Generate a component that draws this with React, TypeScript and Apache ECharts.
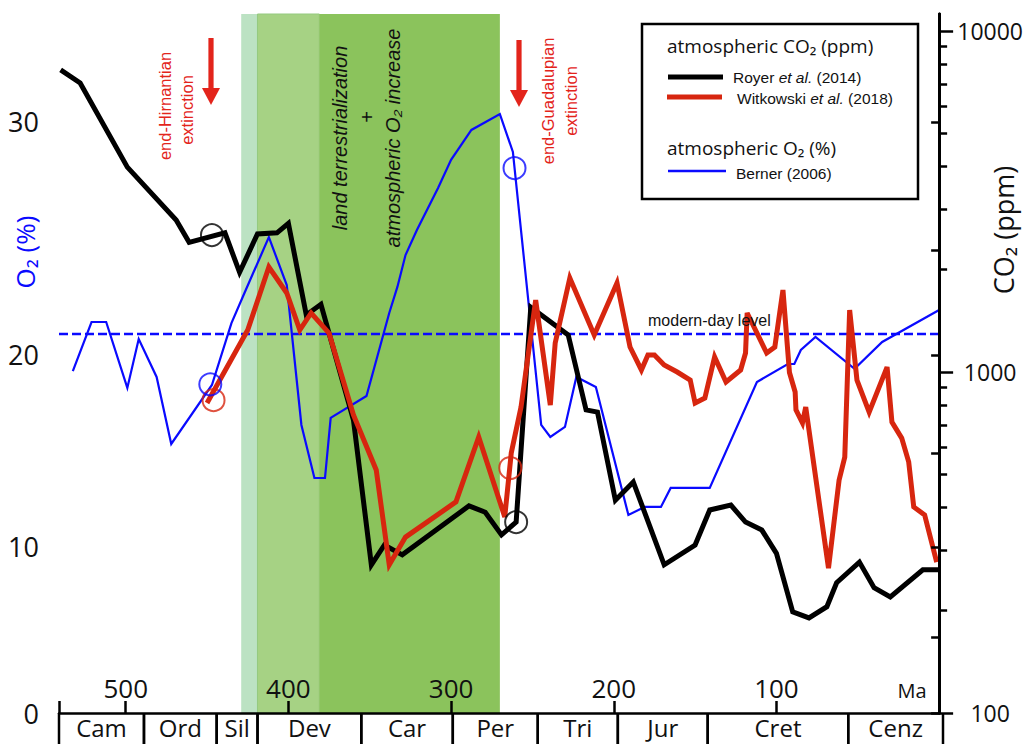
import React, { useEffect, useRef } from 'react';
import * as echarts from 'echarts';

// ---------- data (Ma = million years ago) ----------
const ROYER_MA = [540, 528, 499, 469, 461, 439, 430, 419, 407, 400, 389, 380, 360, 349, 341, 330, 289, 279, 269, 260, 251, 228, 217, 210, 199, 188, 169, 150, 141, 128, 119, 109, 100, 90, 80, 69, 63, 49, 40, 30, 10, 0];
const ROYER_CO2 = [7690, 7040, 3990, 2790, 2400, 2560, 1960, 2540, 2560, 2730, 1470, 1580, 723, 272, 311, 291, 405, 388, 333, 363, 1550, 1284, 774, 763, 421, 476, 272, 311, 394, 407, 363, 344, 294, 198, 190, 205, 241, 277, 233, 219, 263, 263];

const WITK_MA = [450, 425, 412, 401, 393, 386, 375, 360, 346, 338, 328, 297, 283, 267, 263, 257, 248, 239, 236, 227, 212, 198, 190, 183, 179, 175, 169, 161, 153, 150, 144, 138, 131, 122, 119, 118, 106, 101, 96, 92, 88.5, 88, 84, 82, 68, 61.5, 58, 55, 50.5, 43, 32, 29, 23, 18.7, 15.6, 8.9, 1.5];
const WITK_CO2 = [811, 1328, 2032, 1705, 1328, 1490, 1300, 748, 516, 272, 328, 416, 645, 376, 579, 789, 1626, 800, 1216, 1887, 1284, 1824, 1184, 1014, 1122, 1122, 1048, 1000, 947, 811, 839, 1107, 935, 1014, 1137, 1490, 1137, 1184, 1740, 997, 874, 774, 709, 789, 266, 482, 563, 1520, 947, 763, 1034, 713, 640, 545, 402, 381, 277];

const BERNER_MA = [532.5, 521, 512, 499, 492, 481, 472, 447, 435, 427, 412, 401, 392, 384, 377.5, 374, 352, 338, 333, 328, 321, 308, 300, 287.5, 270, 262, 244.6, 239, 230, 223, 211, 191, 181, 171, 165, 141, 112, 93, 89, 85, 76, 52, 35, 0];
const BERNER_O2 = [19.18, 21.57, 21.57, 18.32, 20.76, 18.88, 15.46, 18.47, 21.52, 22.95, 25.5, 23.33, 16.43, 13.67, 13.67, 16.79, 17.91, 22.0, 23.24, 24.76, 25.78, 27.42, 28.52, 29.69, 30.31, 28.83, 16.43, 15.82, 16.33, 18.88, 18.37, 11.7, 12.13, 12.13, 13.14, 13.14, 18.62, 19.54, 19.54, 20.24, 20.86, 19.29, 20.62, 22.14];

const MODERN_O2 = 21;

// extinction markers (circles)
const MARK_MA_ROYER = [447, 260];
const MARK_CO2_ROYER = [2522, 363];
const MARK_MA_WITK = [446, 263.6];
const MARK_CO2_WITK = [827, 523];
const MARK_MA_BERNER = [448, 261];
const MARK_O2_BERNER = [18.5, 28.2];

// shaded intervals (Ma)
const BAND_START = [429, 419, 381];
const BAND_END = [419, 381, 270];
const BAND_COLORS = ['#bce2c3', '#a6d284', '#8bc35c'];

// geological periods
const PERIOD_NAMES = ['Cam', 'Ord', 'Sil', 'Dev', 'Car', 'Per', 'Tri', 'Jur', 'Cret', 'Cenz'];
const PERIOD_START = [541, 489, 444.5, 419.5, 356, 300, 248, 199, 144, 58];
const PERIOD_END = [489, 444.5, 419.5, 356, 300, 248, 199, 144, 58, 0];

// axes
const MA_MAX = 541;
const MA_TICKS = [100, 200, 300, 400, 500];
const CO2_MIN = 100;
const CO2_MAX = 11220;
const O2_TICKS = [0, 5, 10, 15, 20, 25, 30];
const O2_LABELS = [0, 10, 20, 30];
// the printed O2 axis is not linear: relative height (%) of each O2 tick
const O2_TICK_LEVEL = [0, 10.87, 23.75, 37.2, 51.22, 66.24, 84.55];

function o2Scale(v: number): number {
  const n = O2_TICKS.length;
  let i = 0;
  while (i < n - 2 && v > O2_TICKS[i + 1]) i++;
  const t = (v - O2_TICKS[i]) / (O2_TICKS[i + 1] - O2_TICKS[i]);
  return O2_TICK_LEVEL[i] + t * (O2_TICK_LEVEL[i + 1] - O2_TICK_LEVEL[i]);
}

const AXIS_FONT = '"Open Sans", "Noto Sans", sans-serif';
const HELV = '"Liberation Sans", Arial, sans-serif';
const RED = '#d7260f';
const BLUE = '#0a0aff';
const ARROW_RED = '#e3241b';

export default function App() {
  const ref = useRef<HTMLDivElement>(null);
  useEffect(() => {
    if (!ref.current) return;
    const chart = echarts.init(ref.current, undefined, { renderer: 'svg' });

    const minorCo2: number[] = [];
    for (let d = 2; d <= 4; d++) {
      for (let k = 2; k <= 9; k++) {
        const v = k * Math.pow(10, d);
        if (v <= CO2_MAX) minorCo2.push(Math.log10(v));
      }
    }

    const zipPairs = (a: number[], b: number[], f = (x: number) => x) => a.map((x, i) => [x, f(b[i])]);

    const textEl = (x: number, y: number, text: string, opts: any = {}) => ({
      type: 'text',
      x,
      y,
      z: 20,
      rotation: opts.rotation || 0,
      style: {
        text,
        fill: opts.fill || '#111',
        font: opts.font,
        align: opts.align || 'center',
        verticalAlign: 'middle',
        rich: opts.rich,
      },
    });

    const arrow = (x: number, y0: number, y1: number) => ({
      type: 'group',
      z: 20,
      children: [
        { type: 'rect', z: 20, shape: { x: x - 2.6, y: y0, width: 5.2, height: y1 - y0 - 14 }, style: { fill: ARROW_RED } },
        { type: 'polygon', z: 20, shape: { points: [[x - 9, y1 - 17], [x + 9, y1 - 17], [x, y1]] }, style: { fill: ARROW_RED } },
      ],
    });

    const legendRich = {
      n: { font: `15.5px ${HELV}`, fill: '#111' },
      i: { font: `italic 15.5px ${HELV}`, fill: '#111' },
    };

    const option: any = {
      animation: false,
      backgroundColor: '#fff',
      grid: [
        { left: 59, right: 83, top: 14, bottom: 31 },
        { left: 59, right: 83, top: 713, height: 31 },
      ],
      xAxis: [
        {
          type: 'value',
          gridIndex: 0,
          z: 10,
          min: 0,
          max: MA_MAX,
          interval: 100,
          inverse: true,
          axisLine: { show: true, onZero: false, lineStyle: { color: '#000', width: 2.5 } },
          axisTick: { show: true, inside: true, length: 12, lineStyle: { color: '#000', width: 2.5 } },
          axisLabel: {
            inside: true,
            margin: 12,
            color: '#111',
            fontSize: 26,
            fontFamily: AXIS_FONT,
            formatter: (v: number) => (MA_TICKS.indexOf(v) >= 0 ? String(v) : ''),
          },
          splitLine: { show: false },
        },
        { type: 'value', gridIndex: 1, min: 0, max: MA_MAX, inverse: true, show: false },
      ],
      yAxis: [
        {
          type: 'value',
          gridIndex: 0,
          z: 10,
          position: 'left',
          min: 0,
          max: 100,
          axisLine: { show: true, lineStyle: { color: '#000', width: 3 } },
          axisTick: { show: true, length: 8, customValues: O2_TICKS.map(o2Scale), lineStyle: { color: '#000', width: 2.5 } },
          axisLabel: {
            show: true,
            margin: 20,
            customValues: O2_LABELS.map(o2Scale),
            color: '#111',
            fontSize: 27,
            fontFamily: AXIS_FONT,
            formatter: (v: number) => {
              let best = 0;
              O2_LABELS.forEach((l, i) => {
                if (Math.abs(o2Scale(l) - v) < Math.abs(o2Scale(O2_LABELS[best]) - v)) best = i;
              });
              return String(O2_LABELS[best]);
            },
          },
          splitLine: { show: false },
        },
        { type: 'log', logBase: 10, gridIndex: 0, min: CO2_MIN, max: CO2_MAX, show: false },
        {
          type: 'value',
          gridIndex: 0,
          z: 10,
          position: 'right',
          min: Math.log10(CO2_MIN),
          max: Math.log10(CO2_MAX),
          axisLine: { show: true, lineStyle: { color: '#000', width: 3 } },
          axisTick: { show: true, length: 14, customValues: [2, 3, 4], lineStyle: { color: '#000', width: 2.5 } },
          axisLabel: {
            show: true,
            customValues: [2, 3, 4],
            align: 'center',
            margin: 51,
            color: '#111',
            fontSize: 23,
            fontFamily: AXIS_FONT,
            formatter: (v: number) => String(Math.round(Math.pow(10, v))),
          },
          splitLine: { show: false },
        },
        {
          type: 'value',
          gridIndex: 0,
          z: 10,
          position: 'right',
          min: Math.log10(CO2_MIN),
          max: Math.log10(CO2_MAX),
          axisLine: { show: false },
          axisTick: { show: true, length: 8, customValues: minorCo2, lineStyle: { color: '#000', width: 2.5 } },
          axisLabel: { show: false },
          splitLine: { show: false },
        },
        { type: 'value', gridIndex: 1, min: 0, max: 1, show: false },
      ],
      series: [
        {
          type: 'custom',
          name: 'bands',
          xAxisIndex: 0,
          yAxisIndex: 0,
          z: 1,
          silent: true,
          data: BAND_START.map((s, i) => [s, BAND_END[i]]),
          renderItem: (params: any, api: any) => {
            const p0 = api.coord([api.value(0), 100]);
            const p1 = api.coord([api.value(1), 0]);
            const x = Math.min(p0[0], p1[0]);
            return {
              type: 'rect',
              shape: { x, y: p0[1], width: Math.abs(p1[0] - p0[0]), height: p1[1] - p0[1] },
              style: { fill: BAND_COLORS[params.dataIndex], stroke: params.dataIndex === 1 ? '#94c97f' : null, lineWidth: 1 },
            };
          },
        },
        {
          type: 'custom',
          name: 'periods',
          xAxisIndex: 1,
          yAxisIndex: 4,
          z: 5,
          silent: true,
          clip: false,
          data: PERIOD_START.map((s, i) => [s, PERIOD_END[i]]),
          renderItem: (params: any, api: any) => {
            const p0 = api.coord([api.value(0), 1]);
            const p1 = api.coord([api.value(1), 0]);
            const cs = params.coordSys;
            return {
              type: 'group',
              children: [
                { type: 'line', shape: { x1: p0[0], y1: cs.y, x2: p0[0], y2: cs.y + cs.height + 4 }, style: { stroke: '#000', lineWidth: 2.5 } },
                { type: 'line', shape: { x1: p1[0], y1: cs.y, x2: p1[0], y2: cs.y + cs.height + 4 }, style: { stroke: '#000', lineWidth: 2.5 } },
                {
                  type: 'text',
                  x: (p0[0] + p1[0]) / 2,
                  y: cs.y + 14,
                  style: { text: PERIOD_NAMES[params.dataIndex], font: `24px ${AXIS_FONT}`, fill: '#111', align: 'center', verticalAlign: 'middle' },
                },
              ],
            };
          },
        },
        {
          type: 'line',
          name: 'modern',
          xAxisIndex: 0,
          yAxisIndex: 0,
          z: 3,
          symbol: 'none',
          silent: true,
          data: [[MA_MAX, o2Scale(MODERN_O2)], [0, o2Scale(MODERN_O2)]],
          lineStyle: { color: BLUE, width: 2.5, type: [9, 4] },
        },
        {
          type: 'line',
          name: 'Berner (2006)',
          xAxisIndex: 0,
          yAxisIndex: 0,
          z: 4,
          symbol: 'none',
          data: zipPairs(BERNER_MA, BERNER_O2, o2Scale),
          lineStyle: { color: BLUE, width: 2.2, join: 'miter' },
        },
        {
          type: 'line',
          name: 'Royer et al. (2014)',
          xAxisIndex: 0,
          yAxisIndex: 1,
          z: 5,
          symbol: 'none',
          data: zipPairs(ROYER_MA, ROYER_CO2),
          lineStyle: { color: '#000', width: 5, join: 'miter' },
        },
        {
          type: 'line',
          name: 'Witkowski et al. (2018)',
          xAxisIndex: 0,
          yAxisIndex: 1,
          z: 6,
          symbol: 'none',
          data: zipPairs(WITK_MA, WITK_CO2),
          lineStyle: { color: RED, width: 5, join: 'miter' },
        },
        {
          type: 'scatter',
          xAxisIndex: 0,
          yAxisIndex: 1,
          z: 7,
          symbol: 'circle',
          symbolSize: 22,
          data: zipPairs(MARK_MA_ROYER, MARK_CO2_ROYER),
          itemStyle: { color: 'rgba(0,0,0,0)', borderColor: '#000', borderWidth: 2 },
        },
        {
          type: 'scatter',
          xAxisIndex: 0,
          yAxisIndex: 1,
          z: 7,
          symbol: 'circle',
          symbolSize: 22,
          data: zipPairs(MARK_MA_WITK, MARK_CO2_WITK),
          itemStyle: { color: 'rgba(0,0,0,0)', borderColor: RED, borderWidth: 2 },
        },
        {
          type: 'scatter',
          xAxisIndex: 0,
          yAxisIndex: 0,
          z: 7,
          symbol: 'circle',
          symbolSize: 22,
          data: zipPairs(MARK_MA_BERNER, MARK_O2_BERNER, o2Scale),
          itemStyle: { color: 'rgba(0,0,0,0)', borderColor: BLUE, borderWidth: 2 },
        },
      ],
      graphic: [
        // axis titles
        textEl(25, 252, 'O₂ (%)', { rotation: Math.PI / 2, fill: BLUE, font: `26px ${AXIS_FONT}` }),
        textEl(1003, 230, 'CO₂ (ppm)', { rotation: Math.PI / 2, font: `27px ${AXIS_FONT}` }),
        textEl(912, 690, 'Ma', { font: `20px ${AXIS_FONT}` }),
        // band annotation
        textEl(340, 138, 'land terrestrialization', { rotation: Math.PI / 2, font: `italic 20px ${HELV}` }),
        textEl(367, 117, '+', { rotation: Math.PI / 2, font: `20px ${HELV}` }),
        textEl(393, 138, 'atmospheric O₂ increase', { rotation: Math.PI / 2, font: `italic 20px ${HELV}` }),
        // extinctions
        textEl(165, 106, 'end-Hirnantian', { rotation: Math.PI / 2, fill: ARROW_RED, font: `16.5px ${HELV}` }),
        textEl(187, 110, 'extinction', { rotation: Math.PI / 2, fill: ARROW_RED, font: `16.5px ${HELV}` }),
        textEl(548, 101, 'end-Guadalupian', { rotation: Math.PI / 2, fill: ARROW_RED, font: `16.5px ${HELV}` }),
        textEl(571, 101, 'extinction', { rotation: Math.PI / 2, fill: ARROW_RED, font: `16.5px ${HELV}` }),
        arrow(211, 38, 105),
        arrow(519, 40, 107),
        textEl(648, 320, 'modern-day level', { align: 'left', font: `16px ${HELV}` }),
        // legend
        { type: 'rect', z: 20, shape: { x: 642, y: 24, width: 276, height: 175 }, style: { fill: '#fff', stroke: '#000', lineWidth: 2.5 } },
        textEl(667, 46, 'atmospheric CO₂ (ppm)', { align: 'left', font: `19px ${AXIS_FONT}` }),
        { type: 'line', z: 21, shape: { x1: 668, y1: 77, x2: 723, y2: 77 }, style: { stroke: '#000', lineWidth: 5 } },
        textEl(733, 77, '{n|Royer }{i|et al.}{n| (2014)}', { align: 'left', rich: legendRich }),
        { type: 'line', z: 21, shape: { x1: 667, y1: 97, x2: 722, y2: 97 }, style: { stroke: RED, lineWidth: 5 } },
        textEl(737, 98, '{n|Witkowski }{i|et al.}{n| (2018)}', { align: 'left', rich: legendRich }),
        textEl(667, 148, 'atmospheric O₂ (%)', { align: 'left', font: `19px ${AXIS_FONT}` }),
        { type: 'line', z: 21, shape: { x1: 668, y1: 171, x2: 726, y2: 171 }, style: { stroke: BLUE, lineWidth: 2.5 } },
        textEl(736, 173, 'Berner (2006)', { align: 'left', font: `15.5px ${HELV}` }),
      ],
    };

    chart.setOption(option);
    return () => chart.dispose();
  }, []);

  return <div ref={ref} style={{ position: 'fixed', left: 0, top: 0, width: 1026, height: 744, background: '#fff' }} />;
}
